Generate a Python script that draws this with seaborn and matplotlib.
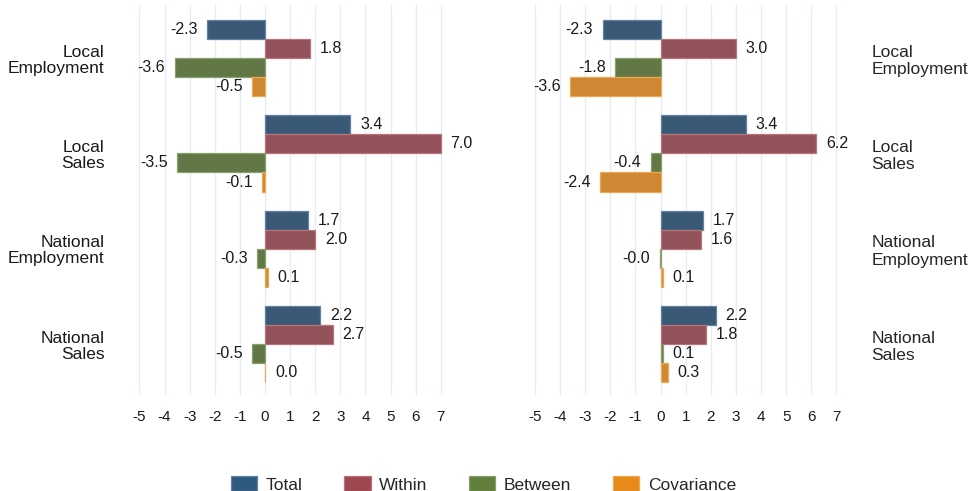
import matplotlib
matplotlib.use("Agg")
import matplotlib.pyplot as plt
import matplotlib.colors as mcolors
import seaborn as sns
import pandas as pd

categories = ["Local\nEmployment", "Local\nSales", "National\nEmployment", "National\nSales"]
components = ["Total", "Within", "Between", "Covariance"]

# Decomposition, first specification
left_total = [-2.3, 3.4, 1.7, 2.2]
left_within = [1.8, 7.0, 2.0, 2.7]
left_between = [-3.6, -3.5, -0.3, -0.5]
left_covariance = [-0.5, -0.1, 0.1, 0.02]

# Decomposition, second specification
right_total = [-2.3, 3.4, 1.7, 2.2]
right_within = [3.0, 6.2, 1.6, 1.8]
right_between = [-1.8, -0.4, -0.03, 0.1]
right_covariance = [-3.6, -2.4, 0.1, 0.3]

x_ticks = [-5, -4, -3, -2, -1, 0, 1, 2, 3, 4, 5, 6, 7]

palette = ["#2f5a80", "#9e4750", "#637f3e", "#e88a1a"]


def lighten(col, amount=0.25):
    r, g, b = mcolors.to_rgb(col)
    return (r + (1 - r) * amount, g + (1 - g) * amount, b + (1 - b) * amount)


def long_table(total, within, between, cov):
    rows = []
    for comp, vals in zip(components, [total, within, between, cov]):
        for cat, v in zip(categories, vals):
            rows.append({"category": cat, "component": comp, "value": v})
    return pd.DataFrame(rows)


sns.set_theme(style="white")
plt.rcParams["font.family"] = ["Liberation Sans", "DejaVu Sans"]

fig = plt.figure(figsize=(9.73, 4.91), dpi=100)
ax_l = fig.add_axes([0.1304, 0.1955, 0.3355, 0.794])
ax_r = fig.add_axes([0.537, 0.1955, 0.3355, 0.794])

panels = [
    (ax_l, long_table(left_total, left_within, left_between, left_covariance), "left"),
    (ax_r, long_table(right_total, right_within, right_between, right_covariance), "right"),
]

for ax, df, side in panels:
    sns.barplot(data=df, y="category", x="value", hue="component",
                hue_order=components, order=categories, palette=palette,
                orient="h", width=0.8, ax=ax, legend=False, zorder=2)
    for patch_group, col in zip(ax.containers, palette):
        for p in patch_group:
            p.set_edgecolor(lighten(col))
            p.set_linewidth(0.9)
        ax.bar_label(patch_group, fmt="%.1f", padding=7, fontsize=11.5,
                     color="#1a1a1a")
    ax.set_xlim(-5.5, 7.5)
    ax.set_ylim(3.535, -0.556)
    ax.set_xticks(x_ticks)
    ax.set_xticklabels([str(t) for t in x_ticks], fontsize=11, color="#1a1a1a")
    ax.tick_params(axis="x", length=0, pad=11)
    ax.tick_params(axis="y", length=0, pad=16, labelsize=12.5)
    for lbl in ax.get_yticklabels():
        lbl.set_color("#1a1a1a")
        lbl.set_linespacing(1.1)
        lbl.set_multialignment("right" if side == "left" else "left")
    ax.grid(axis="x", color="#e6edf1", linewidth=1.0, zorder=0)
    ax.set_axisbelow(True)
    ax.set_xlabel("")
    ax.set_ylabel("")
    for s in ax.spines.values():
        s.set_visible(False)
    if side == "right":
        ax.yaxis.tick_right()
        for lbl in ax.get_yticklabels():
            lbl.set_horizontalalignment("left")

handles = [plt.Rectangle((0, 0), 1, 1, facecolor=c, edgecolor=lighten(c),
                         linewidth=0.9) for c in palette]
fig.legend(handles, components, loc="lower center", bbox_to_anchor=(0.497, -0.035),
           ncol=4, frameon=False, fontsize=12.5, handlelength=1.5, handleheight=0.9,
           handletextpad=0.5, columnspacing=2.4)

fig.savefig("out.png", dpi=100)
